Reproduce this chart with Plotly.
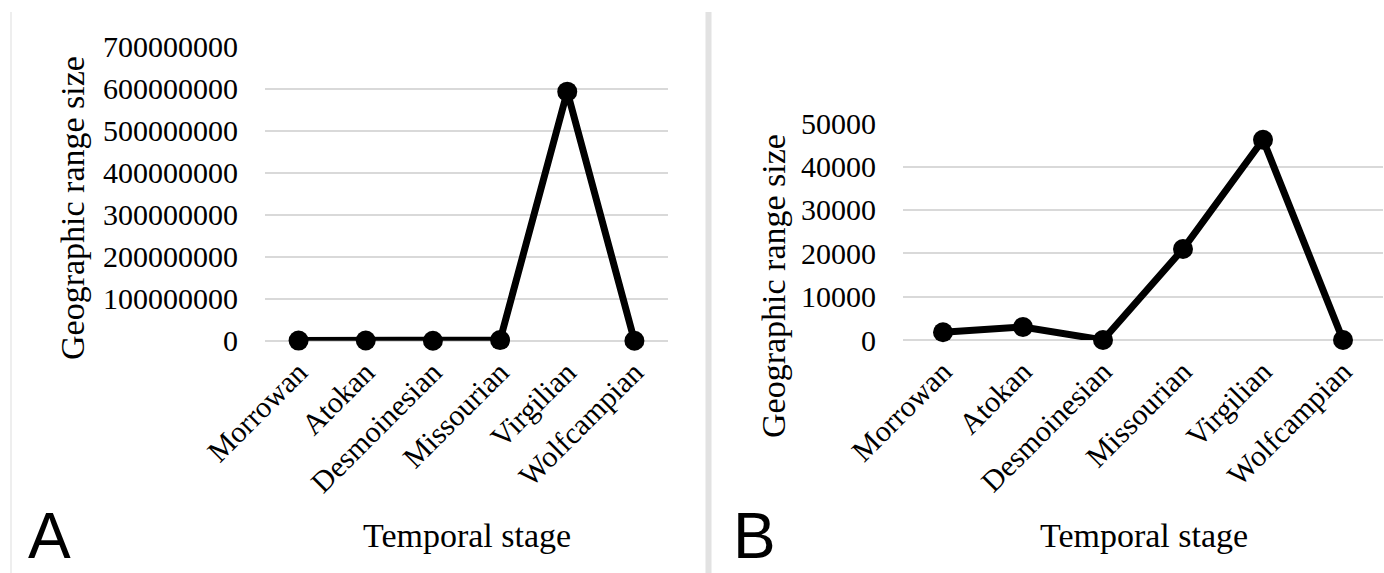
import plotly.graph_objects as go

stages = ["Morrowan", "Atokan", "Desmoinesian", "Missourian", "Virgilian", "Wolfcampian"]
range_a = [300000, 500000, 0, 1500000, 593000000, 0]
range_b = [1800, 3000, 0, 21000, 46200, 0]
ticks_a = [0, 100000000, 200000000, 300000000, 400000000, 500000000, 600000000, 700000000]
ticks_b = [0, 10000, 20000, 30000, 40000, 50000]

W, H = 1384, 573
SERIF = "Liberation Serif, Times New Roman, serif"
SANS = "Liberation Sans, Arial, sans-serif"
GRID = "#d9d9d9"

def px(x):
    return x / W

def py(y):
    return 1 - y / H

fig = go.Figure()

line = dict(color="black", width=7)
marker = dict(color="black", size=20)
fig.add_trace(go.Scatter(x=stages, y=range_a, mode="lines+markers", line=line,
                         marker=marker, cliponaxis=False, xaxis="x", yaxis="y",
                         showlegend=False))
fig.add_trace(go.Scatter(x=stages, y=range_b, mode="lines+markers", line=line,
                         marker=marker, cliponaxis=False, xaxis="x2", yaxis="y2",
                         showlegend=False))

tickfont = dict(family=SERIF, size=30, color="black")

def xax(domain, anchor):
    return dict(domain=domain, anchor=anchor, type="category", range=[-0.5, 5.5],
                tickangle=-45, tickfont=tickfont, showgrid=False, zeroline=False,
                showline=False, ticks="", ticklabelstandoff=7, fixedrange=True,
                automargin=False)

def yax(domain, anchor, rng, tv):
    return dict(domain=domain, anchor=anchor, range=rng, tickvals=tv,
                ticktext=[str(v) for v in tv], tickfont=tickfont,
                showgrid=True, gridcolor=GRID, gridwidth=2, zeroline=True,
                zerolinecolor=GRID, zerolinewidth=2, showline=False, ticks="",
                ticklabelstandoff=26, fixedrange=True, automargin=False)

fig.update_layout(
    width=W, height=H, autosize=False,
    margin=dict(l=0, r=0, t=0, b=0, pad=0, autoexpand=False),
    paper_bgcolor="white", plot_bgcolor="white", showlegend=False,
    xaxis=xax([px(265), px(668)], "y"),
    yaxis=yax([py(340.7), py(46.7)], "x", [0, 700000000], ticks_a),
    xaxis2=xax([px(903), px(1383)], "y2"),
    yaxis2=yax([py(340), py(123.3)], "x2", [0, 50000], ticks_b),
)

titlefont = dict(family=SERIF, size=34, color="black")
ann = [
    dict(x=px(72), y=py(208), text="Geographic range size", textangle=-90, font=titlefont),
    dict(x=px(773), y=py(286), text="Geographic range size", textangle=-90, font=titlefont),
    dict(x=px(467), y=py(535), text="Temporal stage", font=titlefont),
    dict(x=px(1144), y=py(535), text="Temporal stage", font=titlefont),
    dict(x=px(49), y=py(536), text="A", font=dict(family=SANS, size=64, color="black")),
    dict(x=px(754), y=py(536), text="B", font=dict(family=SANS, size=64, color="black")),
]
for a in ann:
    a.update(xref="paper", yref="paper", showarrow=False, xanchor="center", yanchor="middle")
fig.update_layout(annotations=ann)

fig.update_layout(shapes=[
    dict(type="line", xref="paper", yref="paper", x0=px(11), x1=px(11), y0=py(12), y1=0,
         line=dict(color="#e8e8e8", width=1.5)),
    dict(type="line", xref="paper", yref="paper", x0=px(708.5), x1=px(708.5), y0=py(12), y1=0,
         line=dict(color="#e2e2e2", width=6)),
])

fig.write_html("out.html", include_plotlyjs=True, full_html=True,
               config={"responsive": False, "displayModeBar": False},
               post_script="document.body.style.margin='0';document.body.style.padding='0';"
                           "document.body.style.overflow='hidden';"
                           "document.documentElement.style.overflow='hidden';")
